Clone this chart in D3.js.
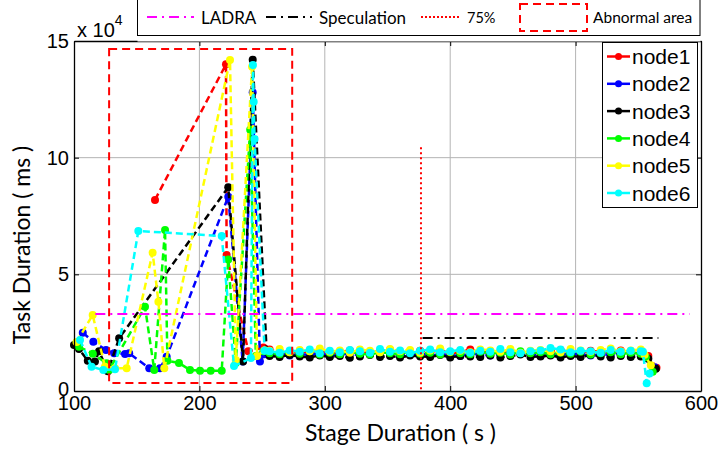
<!DOCTYPE html>
<html>
<head>
<meta charset="utf-8">
<script src="https://cdn.jsdelivr.net/npm/d3@7"></script>
<style>
  body { margin: 0; background: #fff; }
  svg { display: block; }
</style>
</head>
<body>
<script>
let width = 719
let height = 455

// task durations in units of 10^4 ms
let xTicks = [100, 200, 300, 400, 500, 600]
let yTicks = [0, 5, 10, 15]

let nodeNames = ['node1', 'node2', 'node3', 'node4', 'node5', 'node6']
let nodeColors = ['#ff0000', '#0000ff', '#000000', '#00ff00', '#ffff00', '#00ffff']

// abnormal start of each node: [stage duration (s), task duration]
let head1 = [[164.6, 8.19], [221.2, 14.0], [221.7, 5.83], [239, 1.70], [251, 1.86]]
let head2 = [[107, 2.5], [115.4, 2.11], [125.5, 1.76], [132, 1.62], [140.7, 1.59], [144, 1.62],
  [160, 0.98], [168.6, 0.98], [173.9, 1.47], [223, 8.33], [234.5, 1.26], [242.5, 12.8], [248.3, 1.26], [252, 1.58]]
let head3 = [[100, 1.97], [104, 1.8], [111, 1.3], [116.7, 1.26], [120, 1.7], [127, 0.85], [136, 2.26],
  [223, 8.73], [234.8, 1.26], [242.5, 14.2], [253.6, 1.68]]
let head4 = [[104, 1.9], [115, 1.6], [126, 1.19], [128, 0.9], [156.6, 3.61], [164, 0.9], [172.6, 6.9],
  [174.5, 1.3], [183.7, 1.2], [192.5, 0.9], [200.5, 0.87], [209, 0.87], [217.8, 0.87], [223, 5.64],
  [229, 1.2], [240.5, 11.2], [245, 1.5], [251, 1.7]]
let head5 = [[102, 2.1], [114.9, 3.26], [124.7, 1.04], [132.7, 0.98], [142, 0.98], [162.7, 5.93],
  [167.3, 3.83], [172, 0.97], [224.4, 14.19], [229, 1.33], [242, 13.9], [246, 1.5], [252, 1.75]]
let head6 = [[104.8, 2.19], [114, 1.04], [123.4, 0.9], [132.7, 0.93], [151.3, 6.86], [217.8, 6.64],
  [227.6, 1.07], [241.1, 1.41], [242.7, 13.97], [243.3, 12.4], [244, 10.8], [252, 1.72]]

// steady part, shared stage durations
let flatX = [256, 264, 272, 280, 288, 296, 304, 312, 320, 328, 336, 344, 352, 360, 368, 376, 384, 392, 400,
  408, 416, 424, 432, 440, 448, 456, 464, 472, 480, 488, 496, 504, 512, 520, 528, 536, 544, 552]
let flat1 = [1.78, 1.66, 1.62, 1.70, 1.64, 1.72, 1.60, 1.68, 1.74, 1.62, 1.66, 1.70, 1.76, 1.64, 1.60, 1.72, 1.68, 1.74, 1.62,
  1.66, 1.78, 1.64, 1.70, 1.62, 1.68, 1.66, 1.60, 1.64, 1.70, 1.76, 1.66, 1.62, 1.72, 1.68, 1.64, 1.74, 1.66, 1.60]
let flat2 = [1.56, 1.60, 1.52, 1.58, 1.54, 1.62, 1.50, 1.56, 1.60, 1.52, 1.58, 1.54, 1.60, 1.50, 1.56, 1.62, 1.52, 1.58, 1.54,
  1.50, 1.60, 1.56, 1.52, 1.58, 1.54, 1.60, 1.56, 1.50, 1.58, 1.54, 1.62, 1.56, 1.52, 1.58, 1.54, 1.60, 1.56, 1.52]
let flat3 = [1.50, 1.46, 1.54, 1.48, 1.44, 1.52, 1.46, 1.50, 1.42, 1.48, 1.54, 1.46, 1.50, 1.44, 1.52, 1.48, 1.46, 1.54, 1.44,
  1.50, 1.48, 1.46, 1.52, 1.44, 1.50, 1.56, 1.46, 1.48, 1.52, 1.44, 1.50, 1.46, 1.54, 1.48, 1.44, 1.50, 1.46, 1.48]
let flat4 = [1.62, 1.58, 1.66, 1.60, 1.70, 1.56, 1.64, 1.58, 1.68, 1.60, 1.56, 1.66, 1.62, 1.58, 1.70, 1.60, 1.64, 1.56, 1.66,
  1.62, 1.58, 1.68, 1.60, 1.64, 1.56, 1.70, 1.62, 1.66, 1.58, 1.64, 1.60, 1.68, 1.56, 1.62, 1.66, 1.58, 1.64, 1.60]
let flat5 = [1.72, 1.80, 1.66, 1.76, 1.70, 1.82, 1.68, 1.74, 1.64, 1.78, 1.72, 1.66, 1.80, 1.70, 1.76, 1.64, 1.74, 1.82, 1.68,
  1.72, 1.66, 1.78, 1.74, 1.68, 1.80, 1.64, 1.72, 1.76, 1.70, 1.66, 1.80, 1.74, 1.68, 1.76, 1.82, 1.70, 1.74, 1.78]
let flat6 = [1.70, 1.64, 1.74, 1.68, 1.78, 1.62, 1.72, 1.66, 1.76, 1.70, 1.64, 1.80, 1.68, 1.74, 1.62, 1.72, 1.78, 1.66, 1.70,
  1.76, 1.64, 1.72, 1.68, 1.80, 1.66, 1.62, 1.70, 1.74, 1.84, 1.78, 1.66, 1.72, 1.70, 1.64, 1.76, 1.68, 1.72, 1.70]

// drop at the end
let tail1 = [[558, 1.50], [564.5, 1.0]]
let tail2 = [[557, 1.40], [563, 1.02]]
let tail3 = [[558, 1.38], [564, 0.95]]
let tail4 = [[556, 1.45], [561.5, 0.83]]
let tail5 = [[555, 1.55], [560, 1.10]]
let tail6 = [[553.7, 1.68], [556.7, 0.33], [559, 0.75]]

let ladraY = 3.3, ladraX = [117, 591]
let specY = 2.27, specX = [378, 566]
let pct75X = 376.7, pct75Top = 10.45
let abnormal = { x0: 128, x1: 274, y0: 0.34, y1: 14.66 }

let heads = [head1, head2, head3, head4, head5, head6]
let flats = [flat1, flat2, flat3, flat4, flat5, flat6]
let tails = [tail1, tail2, tail3, tail4, tail5, tail6]
let series = nodeNames.map((name, i) => ({
  name: name,
  color: nodeColors[i],
  points: heads[i].concat(flatX.map((x, j) => [x, flats[i][j]]), tails[i])
}))

let plotLeft = 74, plotRight = 701, plotTop = 41, plotBottom = 391
let x = d3.scaleLinear().domain([100, 600]).range([plotLeft, plotRight])
let y = d3.scaleLinear().domain([0, 15]).range([plotBottom, plotTop])

let svg = d3.select('body').append('svg')
  .attr('width', width)
  .attr('height', height)
  .style('font-family', 'Liberation Sans, Arial, sans-serif')

// grid
svg.append('g').selectAll('line').data(xTicks.slice(1, -1)).join('line')
  .attr('x1', d => x(d)).attr('x2', d => x(d)).attr('y1', plotTop).attr('y2', plotBottom)
  .attr('stroke', '#b4b4b4').attr('stroke-width', 1)
svg.append('g').selectAll('line').data(yTicks.slice(1, -1)).join('line')
  .attr('x1', plotLeft).attr('x2', plotRight).attr('y1', d => y(d)).attr('y2', d => y(d))
  .attr('stroke', '#b4b4b4').attr('stroke-width', 1)

// series
let line = d3.line().x(d => x(d[0])).y(d => y(d[1]))
let sg = svg.append('g')
series.forEach(s => {
  sg.append('path')
    .attr('d', line(s.points))
    .attr('fill', 'none')
    .attr('stroke', s.color)
    .attr('stroke-width', 2.5)
    .attr('stroke-dasharray', '7,4')
  sg.append('g').selectAll('circle').data(s.points).join('circle')
    .attr('cx', d => x(d[0]))
    .attr('cy', d => y(d[1]))
    .attr('r', 4)
    .attr('fill', s.color)
})

// reference lines
svg.append('line')
  .attr('x1', x(ladraX[0])).attr('x2', x(ladraX[1])).attr('y1', y(ladraY)).attr('y2', y(ladraY))
  .attr('stroke', '#ff00ff').attr('stroke-width', 2).attr('stroke-dasharray', '10,5,2,5')
svg.append('line')
  .attr('x1', x(specX[0])).attr('x2', x(specX[1])).attr('y1', y(specY)).attr('y2', y(specY))
  .attr('stroke', '#000').attr('stroke-width', 2).attr('stroke-dasharray', '10,5,2,5')
svg.append('line')
  .attr('x1', x(pct75X)).attr('x2', x(pct75X)).attr('y1', y(pct75Top)).attr('y2', y(0))
  .attr('stroke', '#ff0000').attr('stroke-width', 2).attr('stroke-dasharray', '2,3')
svg.append('rect')
  .attr('x', x(abnormal.x0)).attr('y', y(abnormal.y1))
  .attr('width', x(abnormal.x1) - x(abnormal.x0))
  .attr('height', y(abnormal.y0) - y(abnormal.y1))
  .attr('fill', 'none').attr('stroke', '#ff0000').attr('stroke-width', 2).attr('stroke-dasharray', '8,5')

// axes
let ax = svg.append('g').attr('transform', 'translate(0,' + plotBottom + ')')
  .call(d3.axisBottom(x).tickValues(xTicks).tickSize(-5).tickSizeOuter(0).tickPadding(5))
let ay = svg.append('g').attr('transform', 'translate(' + plotLeft + ',0)')
  .call(d3.axisLeft(y).tickValues(yTicks).tickSize(-5).tickSizeOuter(0).tickPadding(5))
svg.append('g').attr('transform', 'translate(0,' + plotTop + ')')
  .call(d3.axisTop(x).tickValues(xTicks).tickSize(-5).tickSizeOuter(0).tickFormat(''))
svg.append('g').attr('transform', 'translate(' + plotRight + ',0)')
  .call(d3.axisRight(y).tickValues(yTicks).tickSize(-5).tickSizeOuter(0).tickFormat(''))
svg.selectAll('.domain').attr('stroke', '#000').attr('stroke-width', 1.3)
svg.selectAll('.tick line').attr('stroke', '#000')
ax.selectAll('text').attr('font-size', 20).attr('fill', '#000').attr('font-family', 'Liberation Sans, Arial, sans-serif')
ay.selectAll('text').attr('font-size', 20).attr('fill', '#000').attr('font-family', 'Liberation Sans, Arial, sans-serif')
// the zero label sits just above the 100 label, as in the original
ay.selectAll('.tick').filter(d => d === 0).select('text').attr('dy', '0.2em')

// exponent
let ex = svg.append('text').attr('x', 77).attr('y', 37).attr('font-size', 20)
ex.append('tspan').text('x 10')
ex.append('tspan').attr('dy', -12).attr('font-size', 14).text('4')

// axis titles
svg.append('text')
  .attr('x', 305).attr('y', 441)
  .attr('font-family', 'Lato, sans-serif').attr('font-size', 23)
  .text('Stage Duration ( s )')
svg.append('text')
  .attr('transform', 'translate(30,245) rotate(-90)')
  .attr('text-anchor', 'middle')
  .attr('font-family', 'Lato, sans-serif').attr('font-size', 23)
  .text('Task Duration ( ms )')

// top legend
let lg = svg.append('g').attr('font-family', 'Lato, sans-serif')
lg.append('rect').attr('x', 137.5).attr('y', -2).attr('width', 563).attr('height', 43.5).attr('fill', '#fff')
lg.append('rect').attr('x', 137.5).attr('y', -2).attr('width', 562.5).attr('height', 37.5)
  .attr('fill', 'none').attr('stroke', '#000').attr('stroke-width', 1)
lg.append('line').attr('x1', 147).attr('x2', 194).attr('y1', 17).attr('y2', 17)
  .attr('stroke', '#ff00ff').attr('stroke-width', 2).attr('stroke-dasharray', '10,5,2,5')
lg.append('text').attr('x', 201).attr('y', 24).attr('font-size', 17).text('LADRA')
lg.append('line').attr('x1', 266).attr('x2', 312).attr('y1', 17).attr('y2', 17)
  .attr('stroke', '#000').attr('stroke-width', 2).attr('stroke-dasharray', '10,5,2,5')
lg.append('text').attr('x', 319).attr('y', 24).attr('font-size', 17).text('Speculation')
lg.append('line').attr('x1', 421).attr('x2', 461).attr('y1', 17).attr('y2', 17)
  .attr('stroke', '#ff0000').attr('stroke-width', 2).attr('stroke-dasharray', '2,2')
lg.append('text').attr('x', 467).attr('y', 23).attr('font-size', 14.5).text('75%')
lg.append('rect').attr('x', 520).attr('y', 4).attr('width', 67).attr('height', 27)
  .attr('fill', 'none').attr('stroke', '#ff0000').attr('stroke-width', 2).attr('stroke-dasharray', '8,5')
lg.append('text').attr('x', 593).attr('y', 23).attr('font-size', 15.5).text('Abnormal area')

// node legend
let ng = svg.append('g')
ng.append('rect').attr('x', 602.5).attr('y', 42.5).attr('width', 95).attr('height', 165)
  .attr('fill', '#fff').attr('stroke', '#000').attr('stroke-width', 1)
series.forEach((s, i) => {
  let cy = 56.5 + i * 27.3
  ng.append('line').attr('x1', 607).attr('x2', 630).attr('y1', cy).attr('y2', cy)
    .attr('stroke', s.color).attr('stroke-width', 2.5)
  ng.append('circle').attr('cx', 618.5).attr('cy', cy).attr('r', 3.5).attr('fill', s.color)
  ng.append('text').attr('x', 632).attr('y', cy).attr('dy', '0.36em')
    .attr('font-size', 21).text(s.name)
})
</script>
</body>
</html>
